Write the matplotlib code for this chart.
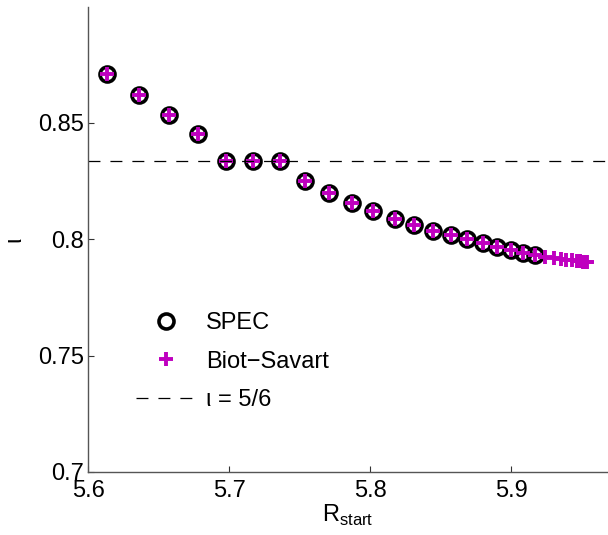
import matplotlib
matplotlib.use("Agg")
import matplotlib.pyplot as plt
import numpy as np

plt.rcParams['font.family'] = ['Liberation Sans', 'DejaVu Sans']
plt.rcParams['lines.scale_dashes'] = False

# SPEC data
spec_r = [5.6135, 5.636, 5.6574, 5.678, 5.698, 5.717, 5.736, 5.754, 5.7705,
          5.7868, 5.8021, 5.8175, 5.8312, 5.8447, 5.8572, 5.8684, 5.8797,
          5.890, 5.8996, 5.9085, 5.9168]
spec_iota = [0.8708, 0.8618, 0.8532, 0.8451, 0.8333, 0.8333, 0.8333, 0.8249,
             0.8198, 0.8156, 0.8120, 0.8086, 0.8059, 0.8034, 0.8016, 0.7999,
             0.7982, 0.7967, 0.7953, 0.7941, 0.7931]

# Biot-Savart data (same starts plus extra ones)
bs_r = spec_r + [5.924, 5.930, 5.935, 5.939, 5.943, 5.9465, 5.949, 5.951, 5.953, 5.954]
bs_iota = spec_iota + [0.7925, 0.7920, 0.7916, 0.7912, 0.7909, 0.7906, 0.7904,
                       0.7903, 0.7901, 0.7900]

resonance = 5.0 / 6.0
xticks = [5.6, 5.7, 5.8, 5.9]
yticks = [0.7, 0.75, 0.8, 0.85]
yticklabels = ['0.7', '0.75', '0.8', '0.85']

fig = plt.figure(figsize=(6.08, 5.35), dpi=100)
ax = fig.add_axes([88.3 / 608, 63 / 535, (608 - 88.3) / 608, 465 / 535])

magenta = '#bf00bf'
l1, = ax.plot(spec_r, spec_iota, linestyle='none', marker='o', markersize=10.8,
              markerfacecolor='none', markeredgecolor='black', markeredgewidth=2.6,
              label='SPEC')
l2, = ax.plot(bs_r, bs_iota, linestyle='none', marker='+', markersize=10,
              markeredgecolor=magenta, markeredgewidth=2.8, label='Biot\u2212Savart')
l3 = ax.axhline(resonance, color='black', lw=0.9, dashes=(8.6, 7.2),
                label='\u03b9 = 5/6')

ax.set_xlim(5.6, 5.6 + 519.7 / 1410)
ax.set_ylim(0.7, 0.8996)
ax.set_xticks(xticks)
ax.set_xticklabels([f'{v:.1f}' for v in xticks])
ax.set_yticks(yticks)
ax.set_yticklabels(yticklabels)

for s in ['top', 'right']:
    ax.spines[s].set_visible(False)
for s in ['left', 'bottom']:
    ax.spines[s].set_color('#555555')
    ax.spines[s].set_linewidth(1.0)
ax.tick_params(direction='in', length=4, width=0.8, color='#333333',
               labelsize=17)
ax.tick_params(axis='y', pad=3)
ax.tick_params(axis='x', pad=6)

ax.set_xlabel('R$_{\\mathregular{start}}$', fontsize=17, labelpad=0)
ax.set_ylabel('\u03b9', fontsize=17, labelpad=9, rotation=90)

leg = ax.legend(handles=[l1, l2, l3], loc='upper left',
                bbox_to_anchor=(136 / 608, 1 - 312 / 535),
                bbox_transform=fig.transFigure, frameon=False, fontsize=17,
                handlelength=2.58, handletextpad=0.38, labelspacing=0.7,
                borderaxespad=0, borderpad=0)

fig.savefig('out.png', dpi=100)
